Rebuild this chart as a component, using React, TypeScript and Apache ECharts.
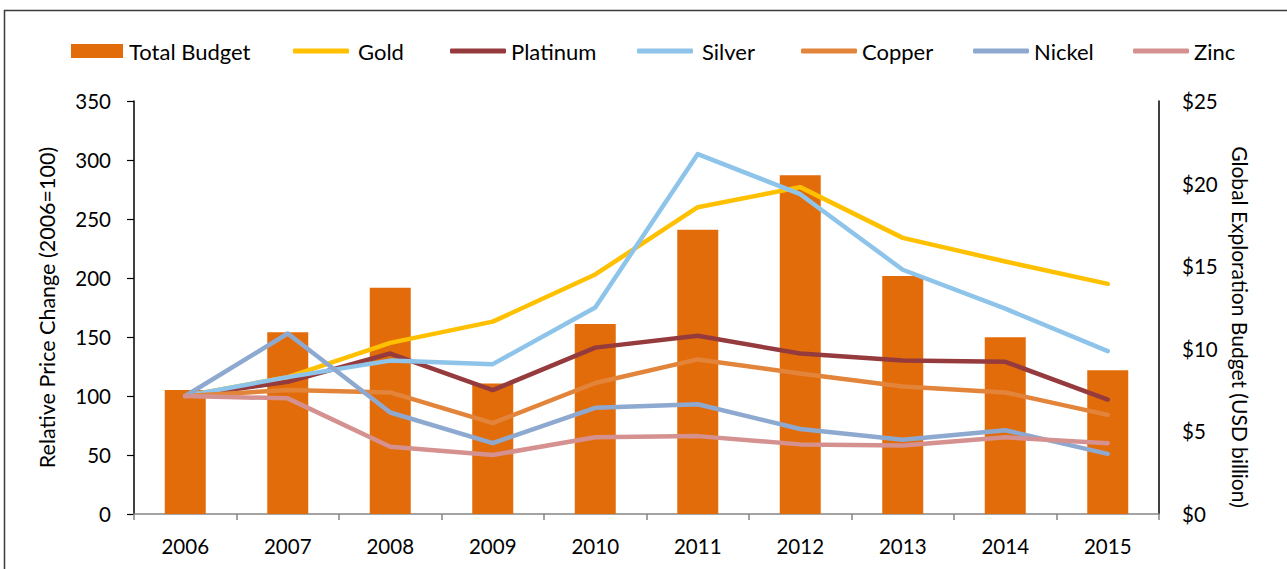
import React, { useEffect, useRef } from "react";
import * as echarts from "echarts";

const years = ["2006", "2007", "2008", "2009", "2010", "2011", "2012", "2013", "2014", "2015"];
const totalBudget = [7.5, 11.0, 13.7, 7.9, 11.5, 17.2, 20.5, 14.4, 10.7, 8.7];
const gold = [100, 116, 145, 163, 203, 260, 277, 234, 214, 195];
const platinum = [100, 112, 136, 105, 141, 151, 136, 130, 129, 97];
const silver = [100, 116, 130, 127, 175, 305, 271, 207, 174, 138];
const copper = [100, 105, 103, 77, 111, 131, 119, 108, 103, 84];
const nickel = [100, 153, 86, 60, 90, 93, 72, 63, 71, 51];
const zinc = [100, 98, 57, 50, 65, 66, 59, 58, 65, 60];

const FONT = "Lato";
const rightAxisName = "Global Exploration Budget (USD billion)";

export default function App() {
  const ref = useRef<HTMLDivElement>(null);
  useEffect(() => {
    if (!ref.current) return;
    const chart = echarts.init(ref.current, undefined, { renderer: "svg" });
    const lines = [
      { name: "Gold", data: gold, color: "#FFC000" },
      { name: "Platinum", data: platinum, color: "#953B3E" },
      { name: "Silver", data: silver, color: "#8EC4EA" },
      { name: "Copper", data: copper, color: "#E2843A" },
      { name: "Nickel", data: nickel, color: "#8EA9D0" },
      { name: "Zinc", data: zinc, color: "#D49190" },
    ];
    const legendPos: Record<string, [number, number]> = {
      "Total Budget": [71, 1],
      Gold: [293, 4],
      Platinum: [450, 0],
      Silver: [637, 4],
      Copper: [801, 0],
      Nickel: [973, 0],
      Zinc: [1133, 0],
    };
    const legends = Object.keys(legendPos).map((n) => {
      const isBar = n === "Total Budget";
      return {
        data: [n],
        left: legendPos[n][0],
        top: 40,
        itemWidth: isBar ? 52 : 56,
        itemHeight: isBar ? 14 : 5,
        icon: isBar ? "rect" : "roundRect",
        padding: 0,
        selectedMode: false,
        textStyle: {
          fontFamily: FONT,
          fontSize: 22,
          color: "#000",
          padding: [0, 0, 0, legendPos[n][1]],
        },
      };
    });
    chart.setOption({
      animation: false,
      textStyle: { fontFamily: FONT },
      legend: legends,
      grid: { left: 134, right: 128, top: 101, bottom: 55, containLabel: false },
      graphic: [
        {
          type: "rect",
          shape: { x: 4.5, y: 10.5, width: 1400, height: 700 },
          style: { fill: "none", stroke: "#3a3a3a", lineWidth: 1.5 },
          silent: true,
        },
        {
          type: "text",
          x: 1240,
          y: 327,
          rotation: -Math.PI / 2,
          silent: true,
          style: {
            text: rightAxisName,
            fill: "#000",
            font: `21px ${FONT}`,
            align: "center",
            verticalAlign: "middle",
          },
        },
      ],
      xAxis: {
        type: "category",
        data: years,
        boundaryGap: true,
        axisLine: { lineStyle: { color: "#868686", width: 1.5 } },
        axisTick: { show: true, length: 6, lineStyle: { color: "#868686", width: 1.5 } },
        axisLabel: { color: "#000", fontSize: 20.5, fontFamily: FONT, margin: 21 },
      },
      yAxis: [
        {
          type: "value",
          min: 0,
          max: 350,
          interval: 50,
          name: "Relative Price Change (2006=100)",
          nameLocation: "middle",
          nameGap: 76,
          nameTextStyle: { color: "#000", fontSize: 21.5, fontFamily: FONT },
          axisLine: { show: true, lineStyle: { color: "#000", width: 1.5 } },
          axisTick: { show: true, length: 7, lineStyle: { color: "#000", width: 1.2 } },
          axisLabel: { color: "#000", fontSize: 20.5, fontFamily: FONT, margin: 23 },
          splitLine: { show: false },
        },
        {
          type: "value",
          min: 0,
          max: 25,
          interval: 5,
          position: "right",
          axisLine: { show: true, lineStyle: { color: "#000", width: 1.5 } },
          axisTick: { show: false },
          axisLabel: {
            color: "#000",
            fontSize: 20.5,
            fontFamily: FONT,
            margin: 23,
            formatter: (v: number) => "$" + v,
          },
          splitLine: { show: false },
        },
      ],
      series: [
        {
          name: "Total Budget",
          type: "bar",
          yAxisIndex: 1,
          data: totalBudget,
          barWidth: 41,
          itemStyle: { color: "#E36C0A" },
        },
        ...lines.map((l) => ({
          name: l.name,
          type: "line",
          yAxisIndex: 0,
          data: l.data,
          symbol: "none",
          color: l.color,
          lineStyle: { color: l.color, width: 4.5, cap: "round", join: "round" },
          itemStyle: { color: l.color },
        })),
      ],
    });
    return () => chart.dispose();
  }, []);
  return (
    <div
      ref={ref}
      style={{ position: "absolute", left: 0, top: 0, width: 1287, height: 569, background: "#fff" }}
    />
  );
}
